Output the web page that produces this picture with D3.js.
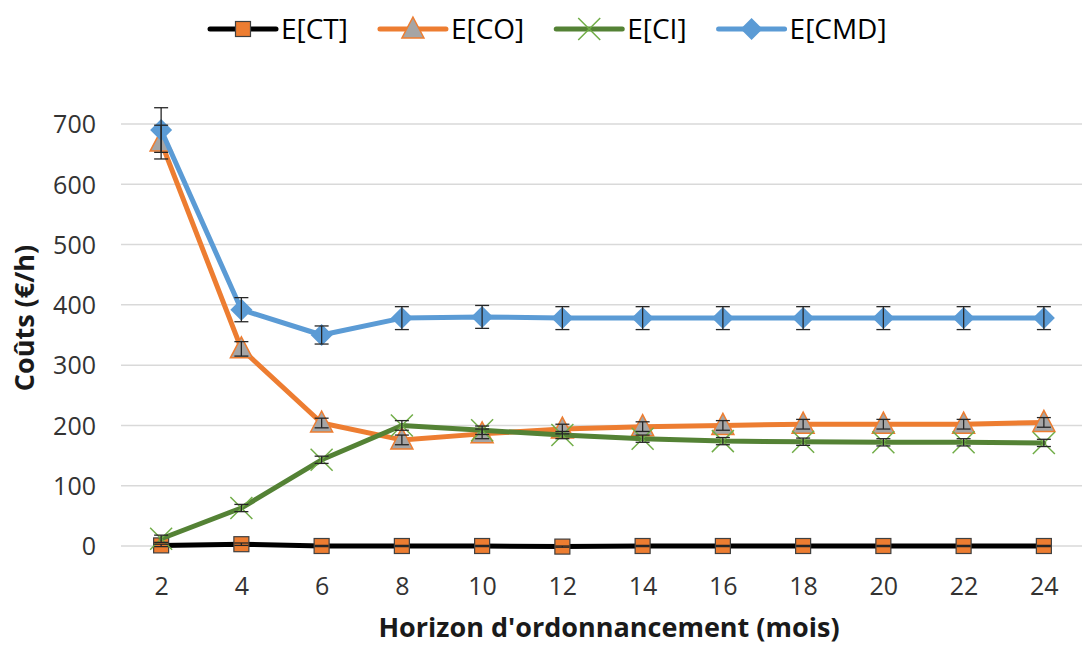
<!DOCTYPE html>
<html><head><meta charset="utf-8">
<script src="https://cdnjs.cloudflare.com/ajax/libs/d3/7.8.5/d3.min.js"></script>
<style>body{margin:0;background:#fff;}svg{display:block;font-family:"Open Sans",sans-serif;}</style>
</head><body>
<svg id="c" width="1082" height="645"></svg>
<script>
const categories = [2,4,6,8,10,12,14,16,18,20,22,24];
const yTicks = [0,100,200,300,400,500,600,700];
const seriesNames = ["E[CT]","E[CO]","E[CI]","E[CMD]"];
const valCT  = [1,3,0,0,0,-1,0,0,0,0,0,0];
const valCO  = [670,327,204,176,186,194,198,200,202,202,202,205];
const valCI  = [12,63,143,200,192,184,178,174,173,172,172,171];
const valCMD = [690,392,350,378,380,378,378,378,378,378,378,378];
const errCT  = [2,2,1,1,1,1,1,1,1,1,1,1];
const errCO  = [28,12,8,8,8,8,8,8,8,8,8,8];
const errCI  = [6,6,6,8,7,6,6,6,6,6,6,6];
const errCMD = [37,20,15,19,19,19,19,19,19,19,19,19];

const svg = d3.select("#c");
const x = d3.scalePoint().domain(categories).range([121,1084]).padding(0.5);
const y = d3.scaleLinear().domain([0,700]).range([546,124]);

// gridlines
svg.append("g").selectAll("line").data(yTicks).join("line")
  .attr("x1",121).attr("x2",1082).attr("y1",d=>y(d)).attr("y2",d=>y(d))
  .attr("stroke","#d9d9d9").attr("stroke-width",1.5);

// y axis labels
const yAxis = svg.append("g").attr("transform","translate(96,0)")
  .call(d3.axisLeft(y).tickValues(yTicks).tickSize(0).tickPadding(0));
yAxis.select(".domain").remove();
yAxis.selectAll("text").attr("font-family","Open Sans").attr("font-size",25).attr("fill","#333").attr("dy","0.35em");

// x axis labels
const xAxis = svg.append("g").attr("transform","translate(0,577)")
  .call(d3.axisBottom(x).tickSize(0).tickPadding(0));
xAxis.select(".domain").remove();
xAxis.selectAll("text").attr("font-family","Open Sans").attr("font-size",25).attr("fill","#333").attr("dy","0.71em");

// axis titles
svg.append("text").attr("x",609).attr("y",637).attr("text-anchor","middle")
  .attr("font-size",27).attr("font-weight","bold").attr("fill","#1a1a1a")
  .text("Horizon d'ordonnancement (mois)");
svg.append("text").attr("transform","translate(34,318) rotate(-90)").attr("text-anchor","middle")
  .attr("font-size",27).attr("font-weight","bold").attr("fill","#1a1a1a")
  .text("Coûts (€/h)");

const series = [
  {name:seriesNames[0], vals:valCT, errs:errCT, line:"#000000", marker:"square", fill:"#ED7D31", mstroke:"#404040"},
  {name:seriesNames[1], vals:valCO, errs:errCO, line:"#ED7D31", marker:"triangle", fill:"#A5A5A5", mstroke:"#ED7D31"},
  {name:seriesNames[2], vals:valCI, errs:errCI, line:"#548235", marker:"x", fill:"none", mstroke:"#70AD47"},
  {name:seriesNames[3], vals:valCMD, errs:errCMD, line:"#5B9BD5", marker:"diamond", fill:"#5B9BD5", mstroke:"#5B9BD5"}
];

function drawMarker(g, s, cx, cy){
  if(s.marker==="square"){
    g.append("rect").attr("x",cx-7.5).attr("y",cy-7.5).attr("width",15).attr("height",15)
      .attr("fill",s.fill).attr("stroke",s.mstroke).attr("stroke-width",1.2);
  } else if(s.marker==="triangle"){
    g.append("path").attr("d",`M${cx},${cy-12}L${cx+11},${cy+9}L${cx-11},${cy+9}Z`)
      .attr("fill",s.fill).attr("stroke",s.mstroke).attr("stroke-width",1.5);
  } else if(s.marker==="x"){
    g.append("path").attr("d",`M${cx-11},${cy-11}L${cx+11},${cy+11}M${cx+11},${cy-11}L${cx-11},${cy+11}`)
      .attr("stroke",s.mstroke).attr("stroke-width",1.5).attr("fill","none");
  } else if(s.marker==="diamond"){
    g.append("path").attr("d",`M${cx},${cy-11}L${cx+11},${cy}L${cx},${cy+11}L${cx-11},${cy}Z`)
      .attr("fill",s.fill);
  }
}

const lineGen = d3.line().x((d,i)=>x(categories[i])).y(d=>y(d));
series.forEach(s=>{
  const g = svg.append("g");
  g.append("path").attr("d",lineGen(s.vals)).attr("fill","none")
    .attr("stroke",s.line).attr("stroke-width",5).attr("stroke-linejoin","round").attr("stroke-linecap","round");
  s.vals.forEach((v,i)=>drawMarker(g,s,x(categories[i]),y(v)));
});
// error bars
const eg = svg.append("g").attr("stroke","#262626").attr("stroke-width",1.3);
series.forEach(s=>{
  s.vals.forEach((v,i)=>{
    const cx = x(categories[i]);
    const y1 = y(v+s.errs[i]), y2 = y(v-s.errs[i]);
    eg.append("line").attr("x1",cx).attr("x2",cx).attr("y1",y1).attr("y2",y2);
    eg.append("line").attr("x1",cx-7).attr("x2",cx+7).attr("y1",y1).attr("y2",y1);
    eg.append("line").attr("x1",cx-7).attr("x2",cx+7).attr("y1",y2).attr("y2",y2);
  });
});

// legend
const lg = svg.append("g");
let lx = 210; const ly = 29;
series.forEach(s=>{
  const g = lg.append("g");
  g.append("line").attr("x1",lx).attr("x2",lx+66).attr("y1",ly).attr("y2",ly)
    .attr("stroke",s.line).attr("stroke-width",5).attr("stroke-linecap","round");
  drawMarker(g,s,lx+33,ly);
  const t = g.append("text").attr("x",lx+71).attr("y",ly).attr("dy","0.36em")
    .attr("font-size",28).attr("fill","#000").text(s.name);
  lx = lx + 71 + t.node().getComputedTextLength() + 32;
});
</script>
</body></html>
